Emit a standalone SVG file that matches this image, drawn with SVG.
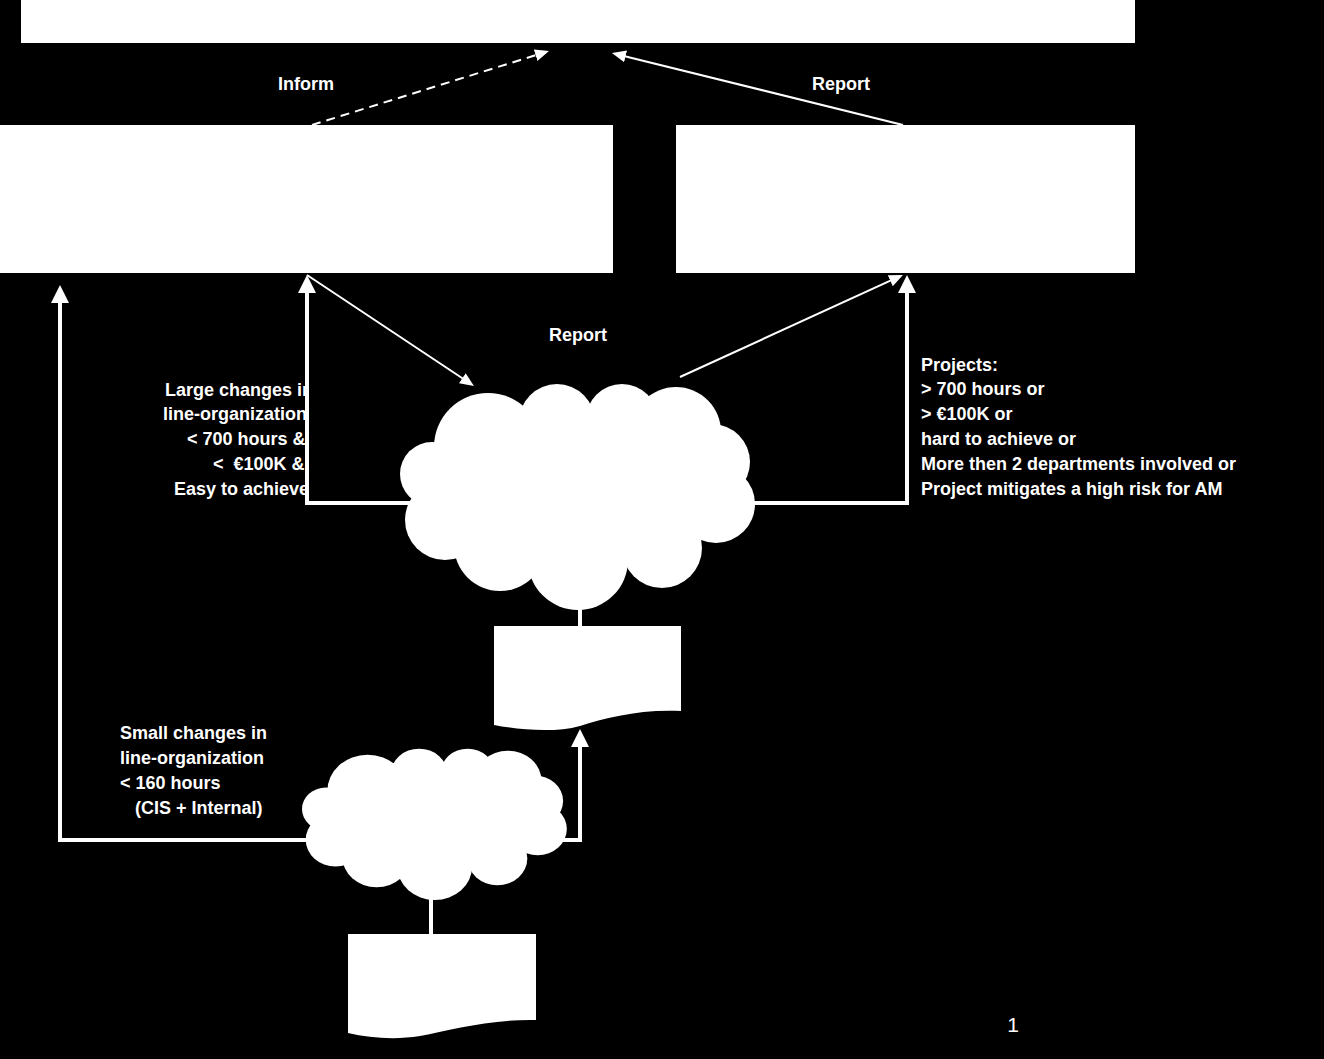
<svg xmlns="http://www.w3.org/2000/svg" xmlns:xlink="http://www.w3.org/1999/xlink" width="1324" height="1059" viewBox="0 0 1324 1059">
<style>
.box{fill:#fff}
.lbl{font-family:"Liberation Sans",Arial,sans-serif;font-weight:bold;font-size:18px;fill:#fff}
.num{font-family:"Liberation Sans",Arial,sans-serif;font-size:21px;fill:#fff}
.thick{stroke:#fff;stroke-width:4;fill:none;marker-end:url(#headThick)}
.thin{stroke:#fff;stroke-width:2;fill:none;marker-end:url(#headThin)}
.plain{stroke:#fff;stroke-width:4;fill:none}
</style>
<defs>
<marker id="headThick" markerUnits="userSpaceOnUse" markerWidth="18" markerHeight="18" refX="6" refY="9" orient="auto"><path d="M0,0 L18,9 L0,18 z" fill="#fff"/></marker>
<marker id="headThin" markerUnits="userSpaceOnUse" markerWidth="14" markerHeight="12" refX="5" refY="6" orient="auto"><path d="M0,0 L14,6 L0,12 z" fill="#fff"/></marker>
<g id="cloudShape" fill="#fff">
<circle cx="432" cy="474" r="32"/>
<circle cx="445" cy="520" r="40"/>
<circle cx="488" cy="447" r="54"/>
<circle cx="557" cy="422" r="38"/>
<circle cx="622" cy="420" r="36"/>
<circle cx="676" cy="432" r="45"/>
<circle cx="712" cy="462" r="38"/>
<circle cx="716" cy="504" r="39"/>
<circle cx="662" cy="548" r="40"/>
<circle cx="578" cy="560" r="50"/>
<circle cx="500" cy="545" r="46"/>
<ellipse cx="580" cy="490" rx="140" ry="80"/>
</g>
<clipPath id="leftClip"><rect x="0" y="370" width="305" height="140"/></clipPath>
</defs>
<rect x="0" y="0" width="1324" height="1059" fill="#000"/>

<g id="connectors">
<line class="thin" x1="312" y1="125" x2="540.4" y2="53.7" stroke-dasharray="9,6"/>
<line class="thin" x1="903" y1="125" x2="620.7" y2="55.2"/>
<polyline class="thick" points="420,503 307,503 307,287"/>
<polyline class="thick" points="745,503 907,503 907,287"/>
<line class="thin" x1="307" y1="275" x2="466.5" y2="381"/>
<line class="thin" x1="680" y1="377" x2="894.8" y2="278.7"/>
<line class="plain" x1="580" y1="600" x2="580" y2="628"/>
<polyline class="thick" points="555,840 580,840 580,741"/>
<polyline class="thick" points="320,840 60,840 60,297"/>
<line class="plain" x1="431" y1="890" x2="431" y2="936" stroke-width="3.5"/>
</g>

<g id="top-box"><rect class="box" x="21" y="0" width="1114" height="43"/></g>
<g id="left-box"><rect class="box" x="0" y="125" width="613" height="148"/></g>
<g id="right-box"><rect class="box" x="676" y="125" width="459" height="148"/></g>
<g id="cloud-large"><use xlink:href="#cloudShape" href="#cloudShape"/></g>
<g id="doc-1"><path class="box" d="M494,626 H681 V711 C640,709 605,718 580,726 C555,733 520,730 494,725 Z"/></g>
<g id="cloud-small"><use xlink:href="#cloudShape" href="#cloudShape" transform="translate(302,748) scale(0.746,0.670) translate(-400,-383)"/></g>
<g id="doc-2"><path class="box" d="M348,934 H536 V1020 C490,1019 450,1030 420,1036 C395,1040 370,1038 348,1033 Z"/></g>

<g id="labels">
<text class="lbl" x="306" y="90" text-anchor="middle">Inform</text>
<text class="lbl" x="841" y="90" text-anchor="middle">Report</text>
<text class="lbl" x="578" y="341" text-anchor="middle">Report</text>
<g clip-path="url(#leftClip)">
<text class="lbl" x="165" y="396">Large changes in</text>
<text class="lbl" x="163" y="420">line-organization</text>
<text class="lbl" x="187" y="445">&lt; 700 hours &amp;</text>
<text class="lbl" x="213" y="470" xml:space="preserve">&lt;  €100K &amp;</text>
<text class="lbl" x="174" y="495">Easy to achieve</text>
</g>
<text class="lbl" x="921" y="371">Projects:</text>
<text class="lbl" x="921" y="395">&gt; 700 hours or</text>
<text class="lbl" x="921" y="420">&gt; €100K or</text>
<text class="lbl" x="921" y="445">hard to achieve or</text>
<text class="lbl" x="921" y="470">More then 2 departments involved or</text>
<text class="lbl" x="921" y="495">Project mitigates a high risk for AM</text>
<text class="lbl" x="120" y="739">Small changes in</text>
<text class="lbl" x="120" y="764">line-organization</text>
<text class="lbl" x="120" y="789">&lt; 160 hours</text>
<text class="lbl" x="135" y="814">(CIS + Internal)</text>
<text class="num" x="1013" y="1032" text-anchor="middle">1</text>
</g>
</svg>
